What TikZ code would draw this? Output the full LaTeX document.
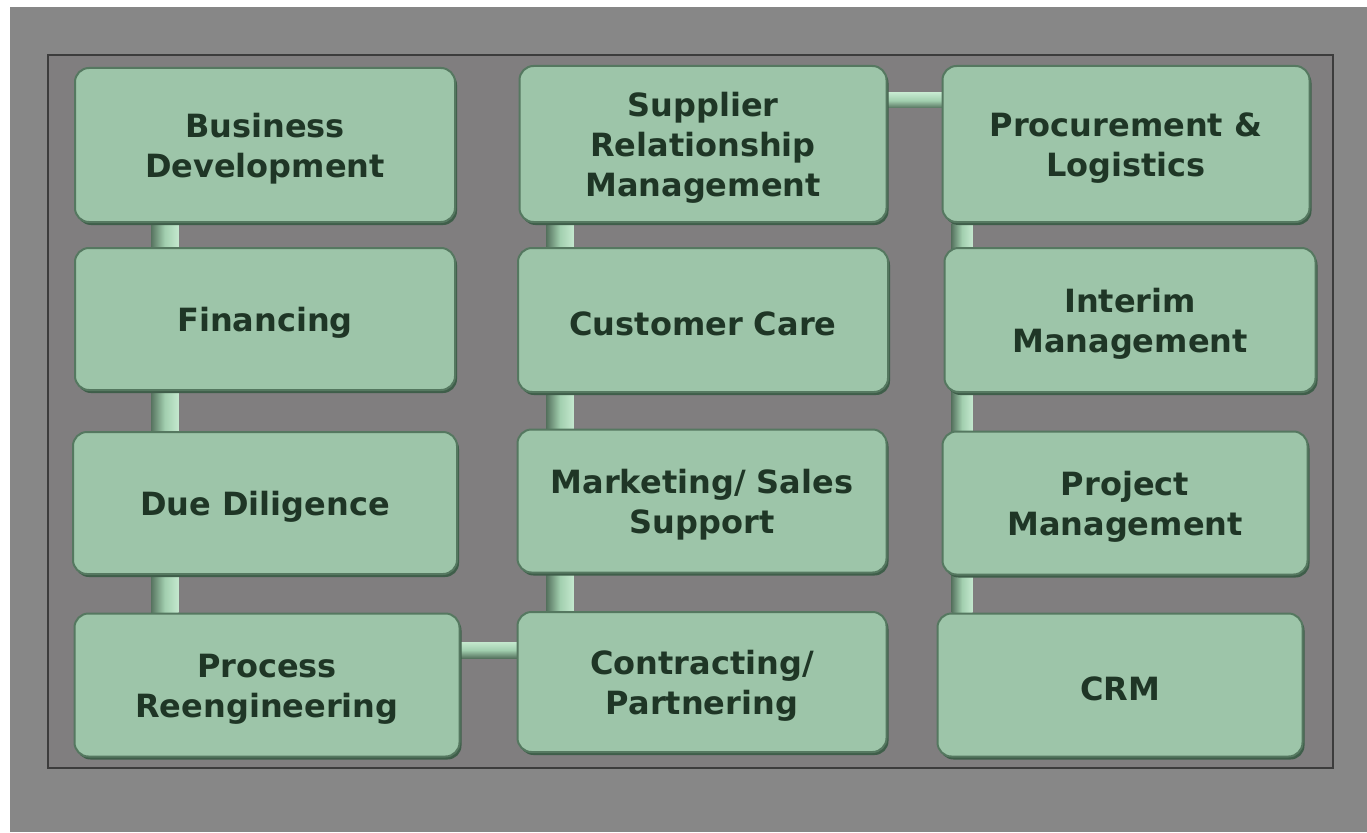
\documentclass[tikz,border=0pt]{standalone}
\usepackage{fontspec}
\setmainfont{DejaVu Sans}
\usetikzlibrary{calc,shadows}
\definecolor{outerbg}{HTML}{878787}
\definecolor{innerbg}{HTML}{807E7F}
\definecolor{framecol}{HTML}{3C3C3C}
\definecolor{boxfill}{HTML}{9DC5A9}
\definecolor{boxedge}{HTML}{557860}
\definecolor{boxshadow}{HTML}{3F5E4A}
\definecolor{boxhi}{HTML}{BFDEC8}
\definecolor{txtcol}{HTML}{1F3626}
\definecolor{bardk}{HTML}{56735F}
\definecolor{barlt}{HTML}{C4E8CE}
\definecolor{barmid}{HTML}{A2CFAF}
\pgfdeclarelayer{bg}
\pgfdeclarelayer{bars}
\pgfsetlayers{bg,bars,main}
\tikzset{
  svcbox/.style={rectangle, rounded corners=14pt, fill=boxfill, draw=boxedge,
    line width=2pt, inner sep=0pt,
    drop shadow={shadow xshift=2pt, shadow yshift=-3pt, fill=boxshadow, opacity=1}},
  svctext/.style={align=center, text=txtcol, inner sep=0pt, yshift=-4pt,
    font=\fontsize{32}{40}\selectfont\bfseries},
  vbar/.style={left color=bardk, right color=barlt, middle color=barmid},
  hbar/.style={top color=barlt, bottom color=bardk, middle color=barmid}
}
\begin{document}
\begin{tikzpicture}[x=1pt,y=-1pt]
\begin{pgfonlayer}{bg}
  \fill[white] (0,0) rectangle (1367,832);
  \fill[outerbg] (10,7) rectangle (1367,832);
  \fill[innerbg] (48,55) rectangle (1333,768);
  \draw[framecol, line width=1.6pt] (48,55) rectangle (1333,768);
\end{pgfonlayer}
\useasboundingbox (0,0) rectangle (1367,832);
% column 1
\node[svcbox, minimum width=380pt, minimum height=154pt, label={[svctext]center:Business\\Development}] (bd)  at (265,145) {};
\node[svcbox, minimum width=380pt, minimum height=142pt, label={[svctext]center:Financing}] (fin) at (265,319) {};
\node[svcbox, minimum width=384pt, minimum height=142pt, label={[svctext]center:Due Diligence}] (dd)  at (265,503) {};
\node[svcbox, minimum width=385pt, minimum height=143pt, label={[svctext]center:Process\\Reengineering}] (pr)  at (267,685) {};
% column 2
\node[svcbox, minimum width=367pt, minimum height=156pt, label={[svctext]center:Supplier\\Relationship\\Management}] (srm) at (703,144) {};
\node[svcbox, minimum width=370pt, minimum height=144pt, label={[svctext]center:Customer Care}] (cc)  at (703,320) {};
\node[svcbox, minimum width=369pt, minimum height=143pt, label={[svctext]center:Marketing/ Sales\\Support}] (ms)  at (702,501) {};
\node[svcbox, minimum width=369pt, minimum height=140pt, label={[svctext]center:Contracting/\\Partnering}] (cp)  at (702,682) {};
% column 3
\node[svcbox, minimum width=367pt, minimum height=156pt, label={[svctext]center:Procurement \&\\Logistics}] (pl)  at (1126,144) {};
\node[svcbox, minimum width=371pt, minimum height=144pt, label={[svctext]center:Interim\\Management}] (im)  at (1130,320) {};
\node[svcbox, minimum width=365pt, minimum height=143pt, label={[svctext]center:Project\\Management}] (pm)  at (1125,503) {};
\node[svcbox, minimum width=365pt, minimum height=143pt, label={[svctext]center:CRM}] (crm) at (1120,685) {};
% connectors
\begin{pgfonlayer}{bars}
  \shade[vbar] ($(bd.south west)+(77,0)$) rectangle ($(pr.north west)+(105,0)$);
  \shade[vbar] ($(srm.south west)+(28,0)$) rectangle ($(cp.north west)+(57,0)$);
  \shade[vbar] ($(pl.south west)+(10,0)$) rectangle ($(crm.north west)+(36,0)$);
  \shade[hbar] ($(pr.east)+(-4,-43)$) rectangle ($(cp.west)+(4,-24)$);
  \shade[hbar] ($(srm.east)+(-4,-51)$) rectangle ($(pl.west)+(4,-36)$);
\end{pgfonlayer}
\end{tikzpicture}
\end{document}
